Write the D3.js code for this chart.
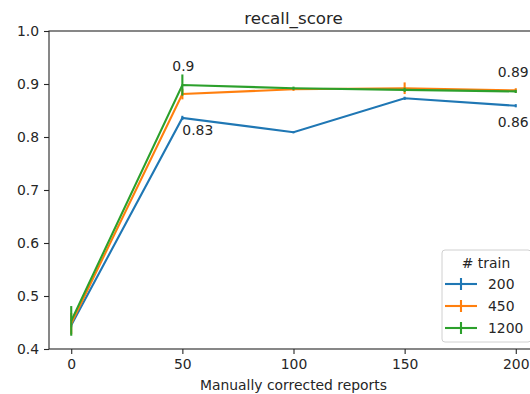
<!DOCTYPE html>
<html>
<head>
<meta charset="utf-8">
<script src="https://cdn.jsdelivr.net/npm/d3@7"></script>
<style>
body { margin:0; background:#fff; }
text { font-family:"DejaVu Sans", sans-serif; fill:#262626; }
</style>
</head>
<body>
<svg></svg>
<script>
var corrected = [0, 50, 100, 150, 200];
var trainSizes = ["200", "450", "1200"];
var recall200 = [0.445, 0.836, 0.809, 0.873, 0.859];
var recall450 = [0.448, 0.881, 0.890, 0.892, 0.888];
var recall1200 = [0.453, 0.898, 0.892, 0.889, 0.886];
var err200 = [0.004, 0.004, 0.002, 0.003, 0.003];
var err450 = [0.02, 0.01, 0.003, 0.011, 0.004];
var err1200 = [0.028, 0.02, 0.003, 0.004, 0.003];
var yTicks = [0.4, 0.5, 0.6, 0.7, 0.8, 0.9, 1.0];
var xTicks = [0, 50, 100, 150, 200];
var colors = ["#1f77b4", "#ff7f0e", "#2ca02c"];

var series = [
    {name:trainSizes[0], values:recall200, errors:err200},
    {name:trainSizes[1], values:recall450, errors:err450},
    {name:trainSizes[2], values:recall1200, errors:err1200}
];

// labels written on the chart: series index, point index, text, pixel offset
var notes = [
    {s:2, i:1, text:"0.9", dx:-10, dy:-14},
    {s:0, i:1, text:"0.83", dx:0, dy:17},
    {s:2, i:4, text:"0.89", dx:-18, dy:-14},
    {s:0, i:4, text:"0.86", dx:-18, dy:21}
];

var screen = {width:530, height:394};
var margins = {left:49, top:31};
var graph = {width:489, height:318};

var svg = d3.select("svg")
    .attr("width", screen.width)
    .attr("height", screen.height);

var target = svg.append("g")
    .attr("transform", "translate(" + margins.left + "," + margins.top + ")");

var xScale = d3.scaleLinear()
    .domain([-10, 210])
    .range([0, graph.width]);

var yScale = d3.scaleLinear()
    .domain([0.4, 1.0])
    .range([graph.height, 0]);

// axes
var xAxis = d3.axisBottom(xScale).tickValues(xTicks).tickSize(5).tickPadding(5).tickFormat(d3.format("d"));
var yAxis = d3.axisLeft(yScale).tickValues(yTicks).tickSize(5).tickPadding(5).tickFormat(d3.format(".1f"));

var gx = target.append("g")
    .attr("transform", "translate(0," + graph.height + ")")
    .call(xAxis);
var gy = target.append("g").call(yAxis);

[gx, gy].forEach(function(g) {
    g.select(".domain").remove();
    g.selectAll(".tick line").attr("stroke", "#262626").attr("stroke-width", 1.1);
    g.selectAll(".tick text").attr("font-size", "13.9px").attr("fill", "#262626");
});

// frame
target.append("rect")
    .attr("width", graph.width)
    .attr("height", graph.height)
    .attr("fill", "none")
    .attr("stroke", "#262626")
    .attr("stroke-width", 1.1);

// lines with error bars
var line = d3.line()
    .x(function(d, i) { return xScale(corrected[i]); })
    .y(function(d) { return yScale(d); });

series.forEach(function(s, k) {
    var g = target.append("g");
    g.append("path")
        .attr("d", line(s.values))
        .attr("fill", "none")
        .attr("stroke", colors[k])
        .attr("stroke-width", 2.1);
    g.selectAll("line")
        .data(s.values)
        .enter()
        .append("line")
        .attr("x1", function(d, i) { return xScale(corrected[i]); })
        .attr("x2", function(d, i) { return xScale(corrected[i]); })
        .attr("y1", function(d, i) { return yScale(d - s.errors[i]); })
        .attr("y2", function(d, i) { return yScale(d + s.errors[i]); })
        .attr("stroke", colors[k])
        .attr("stroke-width", 2.1);
});

// value labels
target.selectAll(".note")
    .data(notes)
    .enter()
    .append("text")
    .attr("class", "note")
    .attr("x", function(n) { return xScale(corrected[n.i]) + n.dx; })
    .attr("y", function(n) { return yScale(series[n.s].values[n.i]) + n.dy; })
    .attr("font-size", "13.9px")
    .text(function(n) { return n.text; });

// title and x label
svg.append("text")
    .attr("x", margins.left + graph.width / 2)
    .attr("y", 24)
    .attr("text-anchor", "middle")
    .attr("font-size", "16.7px")
    .text("recall_score");

svg.append("text")
    .attr("x", margins.left + graph.width / 2)
    .attr("y", 390)
    .attr("text-anchor", "middle")
    .attr("font-size", "13.9px")
    .text("Manually corrected reports");

// legend
var legend = svg.append("g").attr("transform", "translate(442,250)");
legend.append("rect")
    .attr("width", 89)
    .attr("height", 92)
    .attr("rx", 3)
    .attr("fill", "#fff")
    .attr("fill-opacity", 0.8)
    .attr("stroke", "#d0d0d0");
legend.append("text")
    .attr("x", 44)
    .attr("y", 18)
    .attr("text-anchor", "middle")
    .attr("font-size", "13.9px")
    .text("# train");

var items = legend.selectAll(".item")
    .data(series)
    .enter()
    .append("g")
    .attr("class", "item")
    .attr("transform", function(d, i) { return "translate(0," + (34 + i * 22) + ")"; });
items.append("line")
    .attr("x1", 3).attr("x2", 35).attr("y1", 0).attr("y2", 0)
    .attr("stroke", function(d, i) { return colors[i]; })
    .attr("stroke-width", 2.1);
items.append("line")
    .attr("x1", 19).attr("x2", 19).attr("y1", -6).attr("y2", 6)
    .attr("stroke", function(d, i) { return colors[i]; })
    .attr("stroke-width", 2.1);
items.append("text")
    .attr("x", 46)
    .attr("y", 5)
    .attr("font-size", "13.9px")
    .text(function(d) { return d.name; });
</script>
</body>
</html>
